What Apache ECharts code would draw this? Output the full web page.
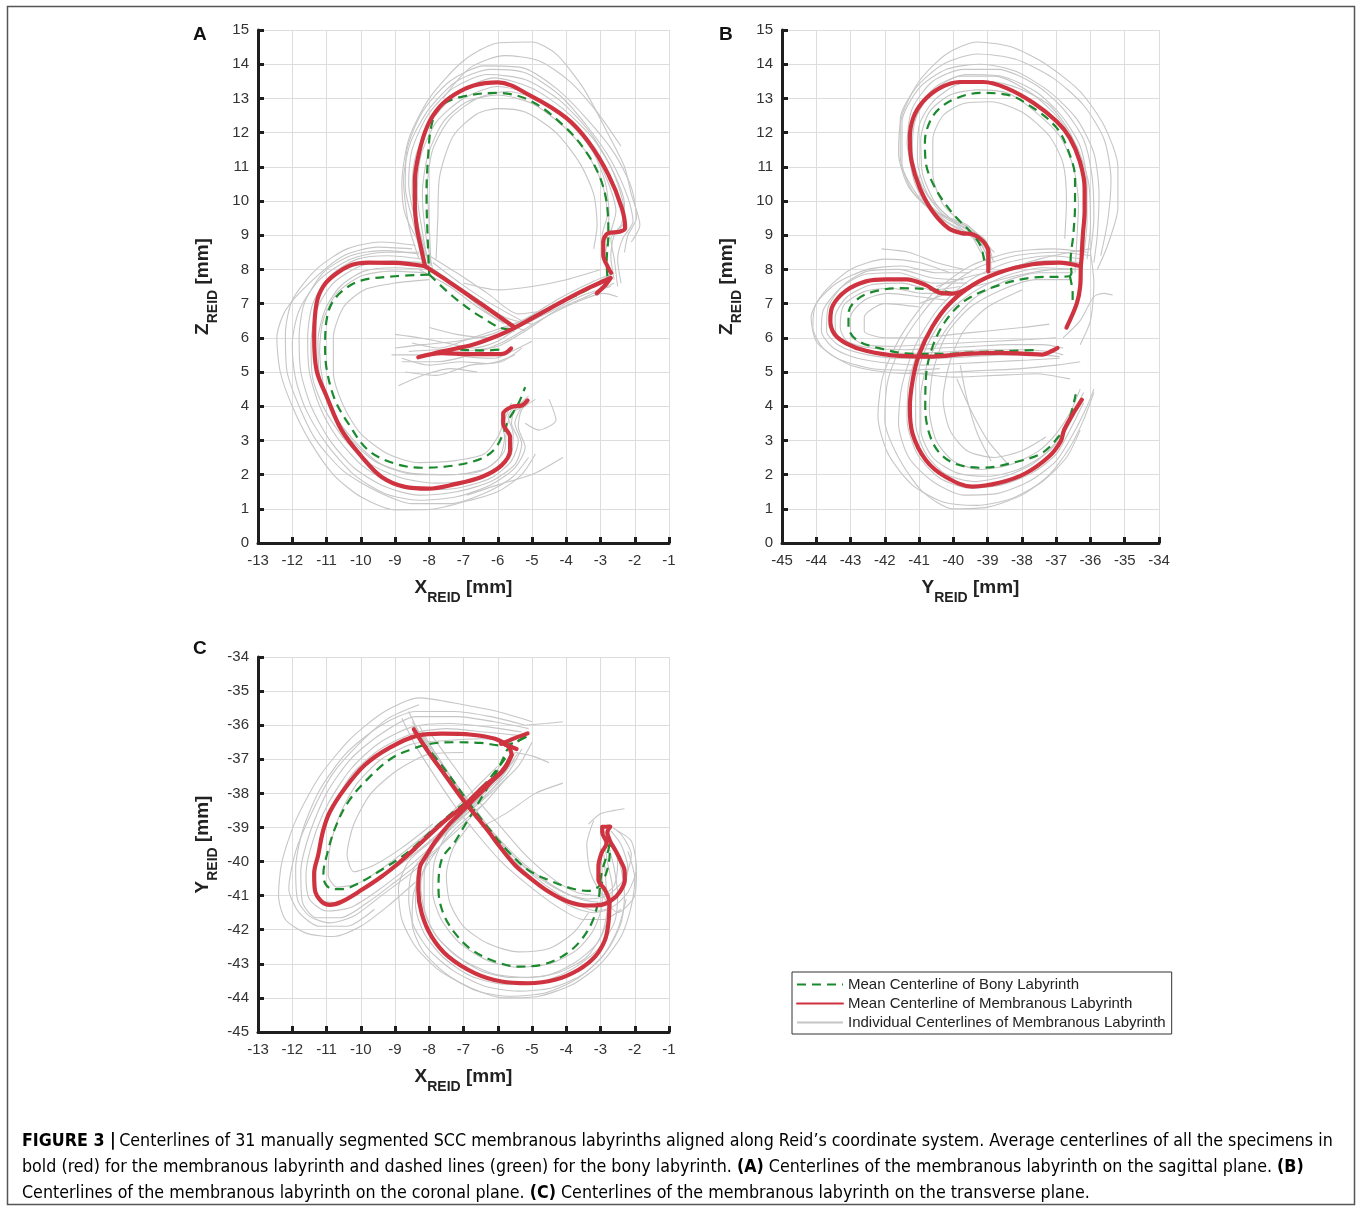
<!DOCTYPE html>
<html><head><meta charset="utf-8">
<script src="https://cdn.jsdelivr.net/npm/echarts/dist/echarts.min.js"></script>
<style>html,body{margin:0;padding:0;background:#fff}#c{width:1362px;height:1209px}</style>
</head><body><div id="c"></div>
<script>
// ---------------- DATA ----------------
const NAME_BONY = 'Mean Centerline of Bony Labyrinth';
const NAME_MEM = 'Mean Centerline of Membranous Labyrinth';
const NAME_IND = 'Individual Centerlines of Membranous Labyrinth';

// Panel A: X_REID vs Z_REID
const A_mem = [
  [[-2.69,7.90],[-2.77,8.04],[-2.92,8.43],[-2.92,8.82],[-2.77,9.06],[-2.45,9.1],[-2.28,9.21],[-2.38,9.80],[-2.77,10.77],[-3.36,11.74],[-4.0,12.43],[-5.01,13.06],[-6.0,13.47],[-6.7,13.38],[-7.25,13.12],[-7.7,12.75],[-8.05,12.2],[-8.3,11.4],[-8.42,10.6],[-8.42,9.9],[-8.36,9.21],[-8.24,8.63],[-8.12,8.09]],
  [[-8.15,8.1],[-9.0,8.19],[-9.78,8.2],[-10.27,8.13],[-10.75,7.85],[-11.09,7.51],[-11.29,7.01],[-11.36,6.03],[-11.29,5.05],[-10.99,4.27],[-10.56,3.30],[-9.97,2.52],[-9.39,1.93],[-8.71,1.64],[-8.03,1.59],[-7.25,1.72],[-6.47,1.93],[-5.89,2.27],[-5.64,2.71],[-5.64,3.10],[-5.84,3.49],[-5.84,3.78],[-5.59,3.98],[-5.30,4.02],[-5.13,4.17]],
  [[-8.12,8.09],[-7.4,7.62],[-6.5,7.0],[-5.5,6.3]],
  [[-5.61,5.69],[-5.79,5.55],[-6.08,5.52],[-6.86,5.52],[-7.64,5.55],[-8.32,5.43],[-7.64,5.6],[-6.76,5.79],[-6.08,6.03],[-5.5,6.3],[-4.82,6.67],[-4.04,7.10],[-3.36,7.45],[-2.77,7.72],[-2.7,7.75],[-2.85,7.55],[-3.11,7.30]]
];
const A_bony = [
  [[-2.8,7.8],[-2.82,8.24],[-2.77,9.02],[-2.79,9.70],[-2.97,10.57],[-3.36,11.35],[-4.0,12.13],[-5.01,12.91],[-6.0,13.16],[-7.0,13.06],[-7.69,12.77],[-7.93,12.23],[-8.03,11.35],[-8.08,10.19],[-8.05,9.02],[-8.0,7.85]],
  [[-8.0,7.85],[-9.0,7.8],[-9.97,7.68],[-10.5,7.4],[-10.85,7.0],[-11.0,6.5],[-11.04,5.74],[-10.99,5.05],[-10.75,4.18],[-10.36,3.49],[-9.78,2.71],[-9.0,2.32],[-8.22,2.2],[-7.25,2.27],[-6.47,2.47],[-6.08,2.76],[-5.84,3.20],[-5.69,3.59],[-5.40,4.07],[-5.20,4.56]],
  [[-8.0,7.85],[-7.3,7.2],[-6.5,6.62],[-5.7,6.25],[-5.0,6.6],[-4.2,7.0],[-3.4,7.4],[-2.8,7.75]],
  [[-7.1,5.65],[-6.4,5.63],[-5.85,5.66]]
];
const A_ind = [
  [[-8.2,8.6],[-8.7,9.6],[-8.8,10.5],[-8.6,11.8],[-8.0,13.0],[-7.0,14.1],[-6.0,14.62],[-5.0,14.65],[-4.3,14.3],[-3.5,13.3],[-2.8,12.0],[-2.3,11.0],[-2.1,10.2],[-1.85,9.3],[-2.1,8.8]],
  [[-8.3,8.3],[-8.6,9.3],[-8.75,10.6],[-8.55,11.7],[-8.0,12.7],[-7.2,13.5],[-6.2,13.85],[-5.2,13.75],[-4.2,13.1],[-3.4,12.2],[-2.7,11.2],[-2.2,10.1],[-2.05,9.4],[-2.35,8.9],[-2.5,8.3],[-2.4,7.6]],
  [[-8.0,8.2],[-8.3,9.2],[-8.5,10.3],[-8.4,11.3],[-7.9,12.4],[-7.1,13.2],[-6.1,13.6],[-5.0,13.3],[-4.1,12.7],[-3.2,11.8],[-2.6,10.8],[-2.3,9.9],[-2.4,9.3],[-2.7,8.9],[-2.6,8.3],[-2.5,7.5]],
  [[-7.9,8.0],[-8.1,9.0],[-8.2,10.2],[-8.05,11.3],[-7.6,12.3],[-6.9,12.9],[-6.0,13.1],[-5.0,12.85],[-4.1,12.2],[-3.4,11.4],[-2.95,10.5],[-2.8,9.6],[-2.95,9.0],[-2.9,8.4],[-2.7,7.8]],
  [[-7.8,8.3],[-7.75,9.5],[-7.7,10.7],[-7.3,11.9],[-6.6,12.55],[-6.0,12.7],[-5.2,12.6],[-4.3,12.0],[-3.6,11.1],[-3.2,10.2],[-3.1,9.3],[-3.2,8.6]],
  [[-8.1,8.4],[-8.4,9.4],[-8.6,10.5],[-8.5,11.5],[-8.05,12.5],[-7.3,13.3],[-6.3,13.7],[-5.2,13.55],[-4.2,12.95],[-3.3,12.0],[-2.7,11.0],[-2.35,10.0],[-2.3,9.4],[-2.6,9.0],[-2.7,8.4],[-2.6,7.7]],
  [[-8.0,8.0],[-8.2,9.1],[-8.35,10.2],[-8.25,11.3],[-7.8,12.3],[-7.0,13.0],[-6.0,13.35],[-5.0,13.1],[-4.1,12.45],[-3.3,11.6],[-2.8,10.6],[-2.55,9.7],[-2.7,9.1],[-2.85,8.5],[-2.75,7.9]],
  [[-8.2,8.2],[-8.45,9.3],[-8.7,10.4],[-8.65,11.5],[-8.2,12.6],[-7.4,13.5],[-6.4,13.95],[-5.3,13.9],[-4.3,13.3],[-3.4,12.4],[-2.6,11.4],[-2.1,10.4],[-1.95,9.5],[-2.2,9.0],[-2.3,8.5]],
  [[-7.95,8.1],[-8.0,9.3],[-8.05,10.4],[-7.9,11.5],[-7.4,12.4],[-6.6,13.0],[-5.7,13.2],[-4.8,12.95],[-3.9,12.3],[-3.2,11.4],[-2.85,10.5],[-2.75,9.6],[-2.85,8.8]],
  [[-7.6,13.0],[-6.8,13.9],[-5.8,14.25],[-4.8,14.1],[-3.9,13.5],[-3.1,12.6],[-2.4,11.6]],
  [[-8.5,8.6],[-9.5,8.65],[-10.5,8.4],[-11.5,7.6],[-12.2,6.8],[-12.45,6.0],[-12.35,5.0],[-12.0,4.0],[-11.5,3.0],[-10.8,2.0],[-10.0,1.35],[-9.0,0.97],[-8.0,0.98],[-7.0,1.2],[-6.0,1.5],[-5.3,2.0],[-4.9,2.6]],
  [[-8.3,8.5],[-9.3,8.5],[-10.3,8.3],[-11.2,7.7],[-11.8,6.8],[-12.0,5.8],[-11.9,4.8],[-11.6,3.9],[-11.0,2.9],[-10.2,2.0],[-9.3,1.45],[-8.3,1.25],[-7.2,1.35],[-6.2,1.7],[-5.5,2.2],[-5.2,2.8],[-5.4,3.4],[-5.3,3.9],[-4.9,4.2]],
  [[-8.2,8.3],[-9.2,8.4],[-10.1,8.3],[-10.9,7.8],[-11.4,7.0],[-11.55,6.0],[-11.5,5.0],[-11.2,4.0],[-10.7,3.1],[-10.0,2.3],[-9.2,1.8],[-8.2,1.55],[-7.2,1.6],[-6.2,1.9],[-5.6,2.4],[-5.4,3.0],[-5.6,3.5],[-5.5,3.9],[-5.1,4.3]],
  [[-8.1,7.9],[-9.1,7.95],[-10.0,7.8],[-10.7,7.3],[-11.1,6.5],[-11.2,5.6],[-11.1,4.7],[-10.8,3.8],[-10.2,3.0],[-9.4,2.3],[-8.4,2.0],[-7.3,2.0],[-6.3,2.2],[-5.8,2.7],[-5.75,3.3],[-5.6,3.8],[-5.2,4.0]],
  [[-8.0,7.7],[-9.0,7.6],[-9.9,7.4],[-10.5,6.9],[-10.8,6.0],[-10.8,5.0],[-10.5,4.0],[-10.0,3.2],[-9.2,2.6],[-8.3,2.35],[-7.3,2.4],[-6.4,2.6],[-6.0,3.1],[-5.8,3.6],[-5.6,4.1]],
  [[-8.3,8.45],[-9.3,8.55],[-10.3,8.4],[-11.1,7.9],[-11.65,7.0],[-11.8,6.0],[-11.75,5.0],[-11.45,4.0],[-10.9,3.0],[-10.2,2.2],[-9.3,1.65],[-8.3,1.4],[-7.2,1.5],[-6.2,1.8],[-5.5,2.3],[-5.3,2.9],[-5.5,3.5],[-5.3,4.0]],
  [[-8.2,8.2],[-9.1,8.25],[-10.0,8.1],[-10.8,7.6],[-11.3,6.8],[-11.45,5.8],[-11.4,4.8],[-11.05,3.9],[-10.45,3.0],[-9.7,2.3],[-8.8,1.9],[-7.8,1.75],[-6.8,1.85],[-6.0,2.15],[-5.6,2.6],[-5.55,3.2],[-5.7,3.7],[-5.4,4.1]],
  [[-8.1,8.0],[-9.0,8.05],[-9.9,7.95],[-10.6,7.5],[-11.05,6.8],[-11.25,5.9],[-11.2,4.9],[-10.9,4.0],[-10.35,3.1],[-9.6,2.4],[-8.6,2.05],[-7.5,2.0],[-6.5,2.1],[-5.95,2.5],[-5.8,3.1],[-5.9,3.6],[-5.6,4.0]],
  [[-8.4,8.7],[-9.4,8.8],[-10.4,8.6],[-11.3,8.0],[-12.0,7.1],[-12.2,6.1],[-12.15,5.0],[-11.8,4.0],[-11.3,3.0],[-10.5,2.1],[-9.5,1.5],[-8.5,1.15],[-7.4,1.15],[-6.4,1.45],[-5.6,1.9],[-5.1,2.5]],
  [[-6.9,1.4],[-6.0,1.7],[-5.0,2.0],[-4.1,2.5]],
  [[-9.0,5.7],[-8.2,5.8],[-7.2,5.9],[-6.2,6.1],[-5.3,6.5],[-4.3,7.0],[-3.3,7.5],[-2.6,7.9]],
  [[-8.8,5.3],[-7.8,5.3],[-6.8,5.5],[-5.8,5.9],[-4.8,6.5],[-3.8,7.0],[-2.9,7.3],[-2.5,7.2]],
  [[-9.1,5.5],[-8.0,5.5],[-7.0,5.6],[-6.0,5.75],[-5.2,6.2],[-4.3,6.8],[-3.2,7.3],[-2.6,7.6]],
  [[-9.0,6.1],[-8.3,6.0],[-7.5,5.85],[-6.7,5.7],[-6.0,5.9],[-5.4,6.3],[-4.5,6.75],[-3.5,7.25],[-2.7,7.5]],
  [[-8.5,5.85],[-7.7,5.7],[-6.9,5.95],[-6.0,6.25],[-5.2,6.55],[-4.2,7.15],[-3.2,7.65],[-2.6,7.9]],
  [[-8.6,5.6],[-7.7,5.65],[-6.9,5.45],[-6.1,5.4],[-5.6,5.6],[-5.0,5.9]],
  [[-8.8,5.4],[-8.0,5.2],[-7.1,5.3],[-6.3,5.25],[-5.5,5.5]],
  [[-8.7,5.0],[-7.8,4.9],[-6.8,5.2],[-5.9,5.3],[-5.3,5.7]],
  [[-8.9,4.6],[-8.2,4.9],[-7.4,5.1],[-6.6,5.0]],
  [[-8.0,6.3],[-7.2,6.1],[-6.3,6.0],[-5.5,6.2]],
  [[-8.0,8.4],[-7.2,7.9],[-6.3,7.3],[-5.4,6.7],[-4.6,6.8]],
  [[-7.9,8.0],[-7.0,7.3],[-6.1,6.6],[-5.2,6.2]],
  [[-8.3,8.0],[-7.4,7.5],[-6.6,6.9],[-5.8,6.4]],
  [[-8.2,8.2],[-7.5,7.75],[-6.7,7.2],[-5.8,6.6],[-5.0,6.4]],
  [[-7.9,8.2],[-7.1,7.6],[-6.2,7.0],[-5.3,6.5]],
  [[-7.0,7.6],[-6.0,7.4],[-5.0,7.5],[-4.0,7.7],[-3.0,8.0]],
  [[-5.2,3.5],[-4.8,3.3],[-4.3,3.6],[-4.5,4.2]]
];

// Panel B: Y_REID vs Z_REID
const B_mem = [
  [[-38.98,7.94],[-38.98,8.53],[-39.13,8.82],[-39.42,9.02],[-39.76,9.06],[-40.15,9.21],[-40.61,9.70],[-40.98,10.38],[-41.22,11.16],[-41.27,11.84],[-41.17,12.43],[-40.88,12.91],[-40.4,13.30],[-39.81,13.48],[-39.13,13.48],[-38.45,13.30],[-37.67,12.87],[-36.99,12.33],[-36.6,11.84],[-36.31,11.16],[-36.17,10.38],[-36.17,9.70],[-36.22,9.02],[-36.26,8.33],[-36.28,8.09],[-36.3,7.5],[-36.4,7.0],[-36.7,6.3]],
  [[-36.28,8.09],[-36.91,8.20],[-37.69,8.15],[-38.66,7.91],[-39.44,7.54],[-40.12,6.99],[-40.61,6.33],[-41.0,5.51],[-41.19,4.74],[-41.27,3.96],[-41.19,3.19],[-40.8,2.42],[-40.22,1.93],[-39.44,1.65],[-38.66,1.76],[-37.89,2.04],[-37.21,2.53],[-36.87,2.97],[-36.77,3.30],[-36.53,3.74],[-36.25,4.19]],
  [[-39.54,7.47],[-40.02,7.29],[-40.41,7.32],[-40.80,7.54],[-41.38,7.71],[-41.97,7.71],[-42.55,7.65],[-43.13,7.38],[-43.52,6.94],[-43.59,6.50],[-43.47,6.11],[-43.13,5.84],[-42.55,5.62],[-41.58,5.47],[-40.61,5.45],[-39.64,5.53],[-38.66,5.56],[-37.89,5.53],[-37.40,5.51],[-37.11,5.62],[-36.96,5.70]]
];
const B_bony = [
  [[-39.1,8.26],[-39.22,8.72],[-39.51,9.11],[-39.90,9.50],[-40.29,9.99],[-40.63,10.58],[-40.81,11.16],[-40.83,11.74],[-40.68,12.33],[-40.39,12.72],[-39.90,13.01],[-39.22,13.16],[-38.44,13.11],[-37.67,12.72],[-36.98,12.13],[-36.64,11.45],[-36.45,10.67],[-36.45,9.89],[-36.50,9.02],[-36.58,8.24],[-36.55,7.9]],
  [[-36.55,7.9],[-36.62,7.8],[-37.69,7.76],[-38.66,7.54],[-39.64,7.10],[-40.22,6.50],[-40.61,5.73],[-40.80,4.85],[-40.82,3.96],[-40.70,3.19],[-40.41,2.64],[-39.93,2.31],[-39.15,2.20],[-38.18,2.37],[-37.40,2.64],[-36.91,3.14],[-36.62,3.63],[-36.43,4.35]],
  [[-40.0,7.30],[-40.49,7.40],[-41.56,7.45],[-42.33,7.35],[-42.82,7.11],[-43.06,6.72],[-43.06,6.33],[-42.82,5.94],[-42.14,5.69],[-41.17,5.53],[-40.19,5.53],[-39.22,5.59],[-38.25,5.62],[-37.57,5.64]],
  [[-36.6,7.8],[-36.52,7.3],[-36.52,6.95]]
];
const B_ind = [
  [[-38.9,8.6],[-39.6,9.3],[-40.6,9.7],[-41.3,10.4],[-41.6,11.4],[-41.5,12.5],[-41.0,13.5],[-40.2,14.3],[-39.3,14.65],[-38.3,14.5],[-37.3,14.0],[-36.3,13.2],[-35.6,12.2],[-35.2,11.0],[-35.2,9.8],[-35.5,8.7],[-35.8,8.0]],
  [[-38.8,8.2],[-39.3,8.9],[-40.2,9.4],[-41.0,10.1],[-41.5,11.1],[-41.5,12.3],[-41.0,13.3],[-40.2,13.85],[-39.2,14.0],[-38.2,13.8],[-37.2,13.2],[-36.4,12.4],[-35.9,11.4],[-35.75,10.2],[-35.8,9.0],[-35.9,8.2]],
  [[-38.9,8.0],[-39.0,8.7],[-39.5,9.2],[-40.3,9.6],[-40.9,10.4],[-41.2,11.4],[-41.1,12.4],[-40.6,13.2],[-39.8,13.65],[-38.8,13.65],[-37.8,13.2],[-37.0,12.5],[-36.4,11.6],[-36.05,10.5],[-36.0,9.3],[-36.1,8.3]],
  [[-39.0,8.1],[-39.3,8.8],[-39.9,9.3],[-40.5,9.9],[-40.9,10.8],[-40.95,11.8],[-40.7,12.6],[-40.1,13.1],[-39.3,13.25],[-38.4,13.15],[-37.6,12.6],[-36.9,11.9],[-36.5,11.0],[-36.35,9.9],[-36.4,8.8],[-36.45,7.9]],
  [[-39.2,8.5],[-39.6,9.2],[-40.3,9.9],[-40.6,10.8],[-40.6,11.8],[-40.3,12.5],[-39.7,12.85],[-38.9,12.9],[-38.0,12.6],[-37.2,11.9],[-36.8,11.1],[-36.7,10.0],[-36.75,8.9]],
  [[-38.85,8.3],[-39.1,8.9],[-39.8,9.3],[-40.6,9.8],[-41.1,10.7],[-41.35,11.7],[-41.2,12.7],[-40.6,13.5],[-39.7,13.85],[-38.7,13.85],[-37.6,13.4],[-36.8,12.7],[-36.2,11.8],[-35.95,10.7],[-35.9,9.5],[-36.0,8.5]],
  [[-38.95,8.1],[-39.2,8.75],[-39.9,9.2],[-40.7,9.75],[-41.15,10.6],[-41.3,11.6],[-41.1,12.6],[-40.5,13.35],[-39.6,13.7],[-38.6,13.65],[-37.6,13.2],[-36.85,12.5],[-36.3,11.6],[-36.1,10.5],[-36.1,9.4],[-36.2,8.4]],
  [[-39.0,8.4],[-39.4,9.0],[-40.1,9.5],[-40.75,10.2],[-41.05,11.2],[-41.0,12.2],[-40.6,12.9],[-39.9,13.4],[-39.0,13.5],[-38.1,13.3],[-37.2,12.8],[-36.6,12.0],[-36.25,11.0],[-36.2,9.8],[-36.3,8.6]],
  [[-38.8,8.5],[-39.5,9.1],[-40.4,9.6],[-41.2,10.3],[-41.55,11.3],[-41.55,12.4],[-41.1,13.3],[-40.3,14.0],[-39.3,14.3],[-38.2,14.15],[-37.1,13.6],[-36.2,12.8],[-35.6,11.8],[-35.4,10.6],[-35.5,9.4],[-35.7,8.4]],
  [[-36.0,8.4],[-37.0,8.5],[-38.2,8.4],[-39.4,8.0],[-40.5,7.2],[-41.4,6.0],[-41.9,4.8],[-42.0,3.6],[-41.6,2.5],[-40.9,1.5],[-40.0,1.0],[-39.0,1.05],[-38.0,1.4],[-37.2,2.0],[-36.6,2.8],[-36.2,3.6],[-35.9,4.4]],
  [[-36.2,8.3],[-37.2,8.4],[-38.4,8.2],[-39.5,7.7],[-40.4,6.9],[-41.1,5.8],[-41.5,4.6],[-41.6,3.5],[-41.3,2.5],[-40.6,1.8],[-39.7,1.4],[-38.7,1.45],[-37.8,1.8],[-37.0,2.4],[-36.5,3.2],[-36.1,4.0],[-35.9,4.5]],
  [[-36.4,8.0],[-37.4,8.05],[-38.5,7.8],[-39.4,7.35],[-40.2,6.7],[-40.8,5.7],[-41.1,4.6],[-41.1,3.5],[-40.8,2.6],[-40.2,2.0],[-39.4,1.8],[-38.5,1.95],[-37.7,2.3],[-37.0,2.9],[-36.6,3.5],[-36.3,4.2]],
  [[-36.6,7.7],[-37.6,7.7],[-38.6,7.4],[-39.5,6.9],[-40.2,6.1],[-40.6,5.0],[-40.7,3.9],[-40.5,3.0],[-40.0,2.4],[-39.2,2.15],[-38.3,2.3],[-37.5,2.7],[-37.0,3.2],[-36.6,3.8],[-36.3,4.5]],
  [[-36.3,8.2],[-37.3,8.25],[-38.5,8.0],[-39.5,7.5],[-40.3,6.8],[-40.95,5.8],[-41.3,4.7],[-41.35,3.6],[-41.05,2.6],[-40.4,1.9],[-39.5,1.6],[-38.6,1.7],[-37.7,2.05],[-37.0,2.6],[-36.6,3.3],[-36.2,4.1]],
  [[-36.5,7.9],[-37.5,7.9],[-38.5,7.65],[-39.4,7.15],[-40.1,6.4],[-40.7,5.4],[-40.95,4.3],[-40.95,3.3],[-40.6,2.5],[-39.9,2.05],[-39.0,1.95],[-38.1,2.15],[-37.4,2.55],[-36.9,3.1],[-36.5,3.8],[-36.2,4.4]],
  [[-36.1,8.5],[-37.1,8.6],[-38.3,8.5],[-39.5,8.1],[-40.6,7.3],[-41.5,6.1],[-42.05,4.9],[-42.2,3.7],[-41.9,2.6],[-41.2,1.7],[-40.3,1.2],[-39.3,1.1],[-38.3,1.3],[-37.4,1.8],[-36.7,2.5],[-36.3,3.3]],
  [[-38.0,7.4],[-39.0,6.9],[-39.7,6.2],[-40.1,5.3],[-40.3,4.2],[-40.1,3.3],[-39.6,2.7],[-38.8,2.5],[-38.0,2.7],[-37.3,3.1]],
  [[-39.8,5.2],[-39.6,4.2],[-39.3,3.2],[-38.9,2.4]],
  [[-39.9,4.8],[-39.5,3.9],[-39.0,3.0],[-38.4,2.3]],
  [[-39.5,7.9],[-40.5,7.9],[-41.5,8.1],[-42.5,8.0],[-43.4,7.6],[-44.0,7.0],[-44.1,6.3],[-43.8,5.7],[-43.0,5.2],[-42.0,5.0],[-41.0,4.95],[-40.0,5.0],[-39.0,5.05],[-38.0,5.1],[-37.0,5.2],[-36.3,5.3]],
  [[-39.6,7.6],[-40.6,7.6],[-41.6,7.9],[-42.6,7.85],[-43.3,7.45],[-43.8,6.8],[-43.85,6.2],[-43.5,5.7],[-42.8,5.4],[-41.8,5.25],[-40.8,5.2],[-39.8,5.25],[-38.8,5.3],[-37.8,5.35],[-36.9,5.4]],
  [[-39.8,7.5],[-40.6,7.4],[-41.5,7.6],[-42.4,7.55],[-43.1,7.2],[-43.45,6.6],[-43.4,6.0],[-42.9,5.7],[-42.0,5.55],[-41.0,5.55],[-40.0,5.6],[-39.0,5.65],[-38.0,5.65],[-37.2,5.6],[-36.8,5.5]],
  [[-40.2,7.1],[-41.0,7.2],[-41.9,7.3],[-42.6,7.1],[-43.0,6.6],[-43.0,6.1],[-42.6,5.8],[-41.8,5.75],[-40.8,5.8],[-39.8,5.85],[-38.8,5.9],[-37.8,5.95],[-37.0,6.0]],
  [[-41.0,6.9],[-42.0,7.0],[-42.6,6.6],[-42.6,6.2],[-42.0,6.0],[-41.0,6.0],[-40.0,6.1],[-39.0,6.2],[-38.0,6.3],[-37.2,6.4]],
  [[-39.7,7.7],[-40.6,7.75],[-41.6,8.0],[-42.5,7.95],[-43.2,7.55],[-43.65,6.9],[-43.7,6.2],[-43.3,5.75],[-42.5,5.5],[-41.5,5.4],[-40.5,5.4],[-39.5,5.45],[-38.5,5.5],[-37.5,5.5],[-36.9,5.45]],
  [[-40.0,7.3],[-40.9,7.3],[-41.8,7.45],[-42.6,7.35],[-43.2,6.95],[-43.3,6.3],[-43.1,5.9],[-42.4,5.7],[-41.4,5.65],[-40.4,5.7],[-39.4,5.75],[-38.4,5.8],[-37.4,5.8],[-36.8,5.7]],
  [[-40.1,7.9],[-41.0,8.2],[-42.0,8.3],[-43.0,8.0],[-43.8,7.3],[-44.15,6.6],[-44.0,5.9],[-43.4,5.4],[-42.4,5.1],[-41.4,5.05],[-40.4,5.1]],
  [[-40.5,7.5],[-39.5,7.8],[-38.5,8.0],[-37.5,8.3],[-36.6,8.5],[-36.0,8.6]],
  [[-41.0,7.0],[-40.0,7.35],[-39.0,7.6],[-38.0,7.85],[-37.0,8.0],[-36.3,8.0]],
  [[-42.1,8.6],[-41.3,8.5],[-40.5,8.2],[-39.7,8.0]],
  [[-36.8,6.0],[-36.3,6.5],[-35.9,7.2],[-35.6,7.3],[-35.35,7.25]],
  [[-36.3,5.8],[-36.0,6.5],[-35.9,7.6],[-36.0,8.5]],
  [[-41.3,5.0],[-40.0,4.85],[-38.8,4.9],[-37.6,4.95],[-36.6,4.8]]
];

// Panel C: X_REID vs Y_REID
const C_mem = [
  [[-5.59,-36.87],[-5.7,-36.62],[-6.08,-36.4],[-6.76,-36.28],[-7.64,-36.25],[-8.32,-36.3],[-9.19,-36.68],[-9.88,-37.17],[-10.46,-37.85],[-10.9,-38.54],[-11.1,-39.1],[-11.24,-39.8],[-11.36,-40.35],[-11.34,-40.83],[-11.14,-41.18],[-10.9,-41.27],[-10.56,-41.18],[-9.97,-40.83],[-9.39,-40.44],[-8.9,-40.05],[-8.42,-39.62],[-7.54,-38.8],[-6.96,-38.34],[-6.47,-37.85],[-5.89,-37.36],[-5.59,-36.87]],
  [[-5.9,-36.52],[-5.45,-36.7]],
  [[-5.9,-36.55],[-5.5,-36.38],[-5.13,-36.24]],
  [[-5.6,-36.88],[-5.79,-37.26],[-6.18,-37.66],[-6.66,-38.14],[-7.05,-38.54],[-7.44,-38.93],[-7.83,-39.42],[-8.1,-39.85],[-8.27,-40.15],[-8.32,-40.83],[-8.22,-41.52],[-7.93,-42.2],[-7.44,-42.79],[-6.66,-43.28],[-5.89,-43.52],[-5.11,-43.57],[-4.33,-43.47],[-3.65,-43.18],[-3.16,-42.79],[-2.87,-42.3],[-2.77,-41.81],[-2.74,-41.2],[-2.87,-40.83],[-3.06,-40.54],[-3.06,-40.15],[-2.97,-39.75],[-2.82,-39.45],[-2.95,-39.15],[-2.95,-38.98],[-2.72,-38.98]],
  [[-8.45,-36.12],[-8.03,-36.78],[-7.54,-37.46],[-7.05,-38.14],[-6.66,-38.63],[-6.27,-39.12],[-5.95,-39.55],[-5.5,-40.1],[-5.11,-40.44],[-4.52,-40.88],[-3.94,-41.18],[-3.36,-41.29],[-2.97,-41.27],[-2.67,-41.13],[-2.43,-40.88],[-2.29,-40.54],[-2.3,-40.25],[-2.4,-40.0],[-2.55,-39.7],[-2.72,-39.4],[-2.8,-39.15],[-2.72,-38.98]]
];
const C_bony = [
  [[-5.16,-36.34],[-5.5,-36.5],[-5.85,-36.6],[-6.5,-36.52],[-7.3,-36.5],[-8.0,-36.55],[-8.5,-36.7],[-9.1,-36.97],[-9.78,-37.56],[-10.36,-38.24],[-10.75,-39.02],[-10.99,-39.81],[-11.09,-40.35],[-11.04,-40.64],[-10.85,-40.8],[-10.56,-40.81],[-10.07,-40.64],[-9.39,-40.24],[-8.8,-39.86],[-8.42,-39.55],[-7.83,-39.0],[-7.25,-38.5],[-6.86,-38.2],[-6.4,-37.75],[-5.95,-37.2],[-5.7,-36.85]],
  [[-5.2,-36.34],[-5.69,-36.68],[-5.84,-36.97],[-6.08,-37.46],[-6.37,-37.95],[-6.66,-38.44],[-6.96,-38.93],[-7.25,-39.42],[-7.64,-39.95],[-7.73,-40.83],[-7.59,-41.52],[-7.25,-42.1],[-6.76,-42.59],[-6.08,-42.93],[-5.4,-43.08],[-4.72,-43.03],[-4.13,-42.79],[-3.65,-42.4],[-3.26,-41.81],[-3.06,-41.13],[-2.97,-40.35],[-2.77,-39.66],[-2.72,-39.3]],
  [[-8.22,-36.48],[-7.64,-37.17],[-7.15,-37.85],[-6.76,-38.39],[-6.27,-39.02],[-5.69,-39.71],[-5.11,-40.25],[-4.52,-40.54],[-3.84,-40.79],[-3.36,-40.86],[-3.06,-40.74],[-2.87,-40.44],[-2.75,-40.0],[-2.72,-39.5]]
];
const C_ind = [
  [[-5.0,-35.9],[-6.0,-35.6],[-7.0,-35.4],[-8.3,-35.2],[-9.3,-35.6],[-10.3,-36.4],[-11.2,-37.5],[-11.9,-38.8],[-12.3,-40.0],[-12.4,-41.0],[-12.2,-41.7],[-11.6,-42.1],[-10.8,-42.2],[-10.0,-41.9],[-9.2,-41.3],[-8.4,-40.6]],
  [[-5.2,-36.0],[-6.2,-35.75],[-7.3,-35.6],[-8.4,-35.6],[-9.4,-36.0],[-10.4,-36.8],[-11.2,-37.9],[-11.7,-39.1],[-11.9,-40.2],[-11.85,-41.1],[-11.5,-41.6],[-10.9,-41.8],[-10.2,-41.6],[-9.4,-41.0],[-8.6,-40.4],[-7.8,-39.7]],
  [[-5.3,-36.2],[-6.3,-36.05],[-7.4,-35.95],[-8.5,-36.05],[-9.5,-36.55],[-10.3,-37.3],[-10.95,-38.3],[-11.4,-39.4],[-11.6,-40.4],[-11.5,-41.1],[-11.0,-41.45],[-10.3,-41.35],[-9.5,-40.85],[-8.6,-40.15],[-7.7,-39.35],[-6.9,-38.6],[-6.1,-37.8],[-5.5,-37.0]],
  [[-5.6,-36.5],[-6.5,-36.4],[-7.5,-36.45],[-8.5,-36.55],[-9.4,-37.0],[-10.1,-37.7],[-10.6,-38.6],[-10.9,-39.6],[-10.95,-40.4],[-10.7,-40.75],[-10.1,-40.65],[-9.3,-40.15],[-8.4,-39.45],[-7.5,-38.7],[-6.7,-37.9],[-6.0,-37.2]],
  [[-7.0,-36.8],[-8.0,-36.85],[-8.9,-37.3],[-9.7,-38.0],[-10.2,-38.9],[-10.4,-39.8],[-10.2,-40.3],[-9.6,-40.1],[-8.8,-39.6],[-7.9,-38.9]],
  [[-5.1,-36.1],[-6.1,-35.9],[-7.2,-35.75],[-8.4,-35.75],[-9.4,-36.25],[-10.3,-37.0],[-11.0,-38.0],[-11.5,-39.2],[-11.75,-40.3],[-11.7,-41.2],[-11.3,-41.65],[-10.6,-41.65],[-9.8,-41.2],[-9.0,-40.6],[-8.1,-39.9],[-7.2,-39.1],[-6.4,-38.3],[-5.7,-37.5]],
  [[-5.4,-36.3],[-6.4,-36.2],[-7.5,-36.1],[-8.5,-36.25],[-9.5,-36.75],[-10.3,-37.5],[-10.85,-38.5],[-11.2,-39.5],[-11.35,-40.5],[-11.2,-41.1],[-10.7,-41.2],[-9.9,-40.8],[-9.0,-40.2],[-8.1,-39.5],[-7.2,-38.7],[-6.4,-37.9],[-5.8,-37.2]],
  [[-8.3,-35.4],[-9.2,-35.8],[-10.0,-36.5],[-10.8,-37.4],[-11.4,-38.5],[-11.9,-39.7],[-12.1,-40.8],[-11.8,-41.5],[-11.2,-41.9],[-10.4,-41.9],[-9.6,-41.4]],
  [[-6.5,-39.0],[-5.7,-38.55],[-4.9,-38.0],[-4.1,-37.7]],
  [[-5.2,-36.0],[-4.6,-35.95],[-4.1,-35.9]],
  [[-5.5,-36.8],[-5.0,-36.9],[-4.5,-37.1]],
  [[-5.0,-36.5],[-5.4,-37.2],[-6.0,-37.8],[-6.8,-38.5],[-7.8,-39.3],[-8.6,-40.0],[-8.9,-40.8],[-8.8,-41.7],[-8.4,-42.5],[-7.7,-43.2],[-6.8,-43.7],[-5.8,-44.0],[-4.8,-43.95],[-3.8,-43.6],[-3.0,-43.0],[-2.4,-42.2],[-2.1,-41.3],[-2.0,-40.5],[-2.2,-39.7]],
  [[-5.3,-36.7],[-5.7,-37.4],[-6.3,-38.0],[-7.1,-38.7],[-7.9,-39.5],[-8.5,-40.3],[-8.6,-41.1],[-8.45,-41.9],[-8.0,-42.6],[-7.3,-43.2],[-6.4,-43.65],[-5.4,-43.8],[-4.4,-43.7],[-3.5,-43.3],[-2.8,-42.6],[-2.4,-41.8],[-2.3,-41.0],[-2.4,-40.2],[-2.6,-39.5]],
  [[-5.5,-36.8],[-6.0,-37.5],[-6.6,-38.1],[-7.3,-38.8],[-7.9,-39.6],[-8.15,-40.4],[-8.15,-41.3],[-7.85,-42.1],[-7.3,-42.7],[-6.5,-43.2],[-5.6,-43.4],[-4.6,-43.35],[-3.8,-43.0],[-3.1,-42.4],[-2.75,-41.6],[-2.65,-40.8],[-2.8,-40.0],[-2.9,-39.3]],
  [[-5.8,-37.0],[-6.3,-37.7],[-6.9,-38.4],[-7.5,-39.2],[-7.85,-40.0],[-7.9,-40.9],[-7.65,-41.7],[-7.1,-42.4],[-6.3,-42.9],[-5.4,-43.1],[-4.5,-43.0],[-3.7,-42.6],[-3.2,-42.0],[-2.95,-41.2],[-2.95,-40.4],[-3.0,-39.6]],
  [[-6.8,-38.9],[-7.3,-39.6],[-7.5,-40.4],[-7.4,-41.2],[-7.0,-41.9],[-6.3,-42.4],[-5.4,-42.65],[-4.5,-42.55],[-3.8,-42.1],[-3.35,-41.5]],
  [[-5.4,-36.8],[-5.9,-37.5],[-6.5,-38.1],[-7.2,-38.8],[-7.9,-39.6],[-8.35,-40.4],[-8.4,-41.3],[-8.15,-42.1],[-7.6,-42.8],[-6.8,-43.35],[-5.8,-43.6],[-4.8,-43.55],[-3.9,-43.2],[-3.1,-42.6],[-2.6,-41.8],[-2.5,-41.0],[-2.6,-40.2],[-2.8,-39.4]],
  [[-5.6,-36.9],[-6.1,-37.6],[-6.7,-38.3],[-7.4,-39.0],[-8.0,-39.8],[-8.25,-40.7],[-8.1,-41.6],[-7.7,-42.3],[-7.0,-42.9],[-6.1,-43.3],[-5.1,-43.4],[-4.2,-43.25],[-3.4,-42.8],[-2.95,-42.1],[-2.8,-41.3],[-2.85,-40.5],[-2.9,-39.8]],
  [[-6.4,-38.3],[-7.3,-39.1],[-8.0,-40.0],[-8.45,-40.9],[-8.5,-41.8],[-8.2,-42.6],[-7.5,-43.3],[-6.6,-43.8],[-5.6,-43.95],[-4.6,-43.85],[-3.7,-43.45],[-2.95,-42.8],[-2.5,-42.0],[-2.25,-41.1]],
  [[-8.6,-35.6],[-8.2,-36.4],[-7.6,-37.3],[-7.0,-38.1],[-6.4,-38.9],[-5.7,-39.7],[-4.9,-40.4],[-4.1,-40.9],[-3.4,-41.1],[-2.8,-41.0],[-2.3,-40.5],[-2.1,-39.8],[-2.4,-39.2],[-2.8,-38.9]],
  [[-8.3,-36.0],[-7.9,-36.7],[-7.3,-37.6],[-6.7,-38.4],[-6.1,-39.2],[-5.4,-40.0],[-4.6,-40.7],[-3.8,-41.2],[-3.1,-41.45],[-2.6,-41.3],[-2.2,-40.9],[-1.95,-40.2],[-2.1,-39.4],[-2.5,-39.1]],
  [[-8.0,-36.2],[-7.5,-36.9],[-7.0,-37.6],[-6.5,-38.3],[-5.9,-39.0],[-5.2,-39.8],[-4.4,-40.5],[-3.7,-40.9],[-3.0,-41.0],[-2.6,-40.7],[-2.5,-40.0],[-2.7,-39.4],[-3.0,-39.0]],
  [[-8.8,-35.8],[-8.4,-36.6],[-7.9,-37.4],[-7.3,-38.3],[-6.6,-39.2],[-5.9,-40.0],[-5.1,-40.7],[-4.3,-41.3],[-3.5,-41.7],[-2.9,-41.7],[-2.4,-41.4]],
  [[-8.5,-35.9],[-8.1,-36.5],[-7.6,-37.2],[-7.1,-37.9],[-6.5,-38.7],[-5.9,-39.4],[-5.2,-40.1],[-4.4,-40.7],[-3.6,-41.1],[-2.9,-41.2],[-2.4,-40.9],[-2.2,-40.2],[-2.4,-39.5],[-2.7,-39.1]],
  [[-8.2,-36.3],[-7.7,-37.0],[-7.2,-37.8],[-6.7,-38.5],[-6.1,-39.3],[-5.4,-40.1],[-4.6,-40.8],[-3.9,-41.3],[-3.2,-41.5],[-2.7,-41.4]],
  [[-3.2,-38.8],[-3.4,-39.5],[-3.3,-40.3],[-3.0,-40.9],[-2.5,-41.5],[-2.0,-41.0],[-1.95,-40.3]],
  [[-3.35,-38.9],[-3.0,-38.6],[-2.6,-38.5],[-2.3,-38.45]]
];

// axis tick ranges
const A_X = {min:-13, max:-1}, A_Y = {min:0, max:15};
const B_X = {min:-45, max:-34}, B_Y = {min:0, max:15};
const C_X = {min:-13, max:-1}, C_Y = {min:-45, max:-34};

// ---------------- CHART ----------------
const FONT = '"Liberation Sans", Arial, Helvetica, sans-serif';
const RED = '#cf3340', GREEN = '#1b8a2e', GRAY = '#c6c6c6';
const chart = echarts.init(document.getElementById('c'), null, {renderer:'canvas'});

function axisName(letter) {
  return '{b|' + letter + '}{s|REID}{b| [mm]}';
}
const nameRich = {
  b: {fontSize: 19, fontWeight: 'bold', fontFamily: FONT, color: '#222', lineHeight: 30, verticalAlign: 'top', padding: [3,0,0,0]},
  s: {fontSize: 14, fontWeight: 'bold', fontFamily: FONT, color: '#222', lineHeight: 30, verticalAlign: 'bottom', padding: [0,0,0,0]}
};
function mkAxis(gi, rng, isX, letter) {
  return {
    type: 'value', gridIndex: gi, min: rng.min, max: rng.max, interval: 1,
    axisLine: {show: true, onZero: false, lineStyle: {color: '#1e1e1e', width: 3}},
    axisTick: {show: true, inside: true, length: 6, lineStyle: {color: '#1e1e1e', width: 3}},
    axisLabel: {color: '#333', fontSize: 15, fontFamily: FONT, margin: isX ? 10 : 9},
    splitLine: {show: true, lineStyle: {color: '#dddddd', width: 1}},
    name: axisName(letter), nameLocation: 'middle', nameGap: isX ? 32 : 38,
    nameTextStyle: {rich: nameRich}
  };
}
const series = [];
function addSegs(segs, gi, kind) {
  segs.forEach(function (seg) {
    let s = {type: 'line', xAxisIndex: gi, yAxisIndex: gi, data: seg, symbol: 'none', showSymbol: false, silent: true, animation: false};
    if (kind === 'ind') { s.name = NAME_IND; s.smooth = 0.25; s.lineStyle = {color: GRAY, width: 1.1}; s.itemStyle = {color: GRAY}; s.z = 2; }
    if (kind === 'bony') { s.name = NAME_BONY; s.smooth = 0.35; s.lineStyle = {color: GREEN, width: 2.2, type: [9, 6]}; s.itemStyle = {color: GREEN}; s.z = 3; }
    if (kind === 'mem') { s.name = NAME_MEM; s.smooth = 0.35; s.lineStyle = {color: RED, width: 4.2, cap: 'round', join: 'round'}; s.itemStyle = {color: RED}; s.z = 4; }
    series.push(s);
  });
}
addSegs(A_ind, 0, 'ind'); addSegs(B_ind, 1, 'ind'); addSegs(C_ind, 2, 'ind');
addSegs(A_bony, 0, 'bony'); addSegs(B_bony, 1, 'bony'); addSegs(C_bony, 2, 'bony');
addSegs(A_mem, 0, 'mem'); addSegs(B_mem, 1, 'mem'); addSegs(C_mem, 2, 'mem');

const CAPFONT = '"DejaVu Sans Condensed", "Liberation Sans Narrow", ' + FONT;
const capRich = {
  n: {fontSize: 17.7, fontFamily: CAPFONT, color: '#3a3a3a'},
  k: {fontSize: 17.7, fontFamily: CAPFONT, color: '#222', fontWeight: 'bold'}
};

const option = {
  backgroundColor: '#ffffff',
  animation: false,
  grid: [
    {left: 258, top: 30, width: 411, height: 513},
    {left: 782, top: 30, width: 377, height: 513},
    {left: 258, top: 657, width: 411, height: 375}
  ],
  xAxis: [mkAxis(0, A_X, true, 'X'), mkAxis(1, B_X, true, 'Y'), mkAxis(2, C_X, true, 'X')],
  yAxis: [mkAxis(0, A_Y, false, 'Z'), mkAxis(1, B_Y, false, 'Z'), mkAxis(2, C_Y, false, 'Y')],
  legend: {
    data: [NAME_BONY, NAME_MEM, NAME_IND],
    orient: 'vertical', left: 792, top: 972,
    itemWidth: 46, itemHeight: 14, itemGap: 4,
    padding: [5, 6, 4, 4],
    borderColor: '#333', borderWidth: 1, backgroundColor: '#fff',
    itemStyle: {opacity: 0},
    textStyle: {fontSize: 15, fontFamily: FONT, color: '#222', lineHeight: 15},
    selectedMode: false
  },
  graphic: [
    {type: 'rect', shape: {x: 7.5, y: 6.5, width: 1347, height: 1198}, style: {fill: 'none', stroke: '#555', lineWidth: 1.5}, z: -10, silent: true},
    {type: 'text', left: 193, top: 25, style: {text: 'A', font: 'bold 19px ' + FONT, fill: '#111'}},
    {type: 'text', left: 719, top: 25, style: {text: 'B', font: 'bold 19px ' + FONT, fill: '#111'}},
    {type: 'text', left: 193, top: 639, style: {text: 'C', font: 'bold 19px ' + FONT, fill: '#111'}},
    {type: 'text', left: 22, top: 1132, style: {text: '{k|FIGURE 3 |} {n|Centerlines of 31 manually segmented SCC membranous labyrinths aligned along Reid\u2019s coordinate system. Average centerlines of all the specimens in}', rich: capRich}},
    {type: 'text', left: 22, top: 1158, style: {text: '{n|bold (red) for the membranous labyrinth and dashed lines (green) for the bony labyrinth. }{k|(A)}{n| Centerlines of the membranous labyrinth on the sagittal plane. }{k|(B)}', rich: capRich}},
    {type: 'text', left: 22, top: 1184, style: {text: '{n|Centerlines of the membranous labyrinth on the coronal plane. }{k|(C)}{n| Centerlines of the membranous labyrinth on the transverse plane.}', rich: capRich}}
  ],
  series: series
};
chart.setOption(option);
</script>
</body></html>
